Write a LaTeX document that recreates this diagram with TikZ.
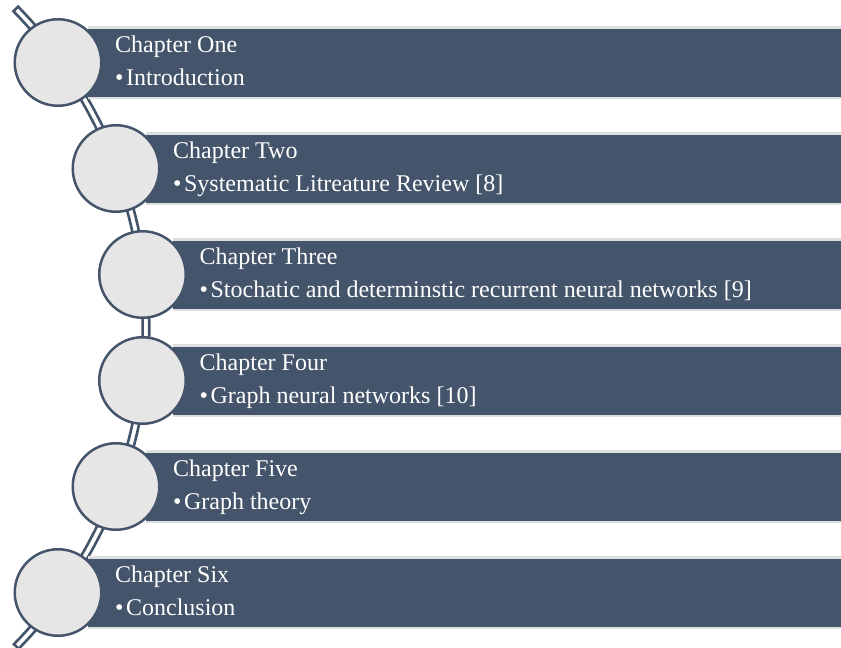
\documentclass[tikz,border=0pt]{standalone}
\usepackage{fontspec}
\setmainfont{Liberation Serif}
\definecolor{bardark}{HTML}{44546A}
\definecolor{circfill}{HTML}{E7E6E6}
\definecolor{barline}{HTML}{DEDEDE}
\tikzset{
  band/.style={draw=bardark, line width=2.6pt, fill=white, line join=miter},
  barbg/.style={fill=barline},
  barfg/.style={fill=bardark},
  bead/.style={circle, draw=bardark, line width=2.5pt, fill=circfill, minimum size=86.5pt, inner sep=0pt},
  txt/.style={text=white, font=\fontsize{24}{28}\selectfont, inner sep=0pt, anchor=base west}
}
\begin{document}
\begin{tikzpicture}[x=1pt,y=-1pt]
\useasboundingbox (0,0) rectangle (841,648);
% curved double band
\draw[band] plot[domain=-44.4:44.3, samples=80] ({-310+459.3*cos(\x)},{328+459.3*sin(\x)})
  -- plot[domain=44.3:-44.4, samples=80] ({-310+452.7*cos(\x)},{328+452.7*sin(\x)}) -- cycle;
\foreach \i/\cx/\cy/\head/\item in {
  1/58/62.5/{Chapter One}/{Introduction},
  2/116/168.5/{Chapter Two}/{Systematic Litreature Review [8]},
  3/142.5/274.5/{Chapter Three}/{Stochatic and determinstic recurrent neural networks [9]},
  4/142.5/380.5/{Chapter Four}/{Graph neural networks [10]},
  5/116/486.5/{Chapter Five}/{Graph theory},
  6/58/592.5/{Chapter Six}/{Conclusion}}{
  \fill[barbg] (\cx+30,\cy-36.5) rectangle (845,\cy+36.5);
  \fill[barfg] (\cx+30,\cy-34) rectangle (845,\cy+34);
  \node[bead] (c\i) at (\cx,\cy) {};
  \node[txt] (h\i) at (\cx+57,\cy-10) {\head};
  \node[txt] (b\i) at (\cx+57,\cy+22.5) {\textbullet\hspace{2.5pt}\item};
}
\end{tikzpicture}
\end{document}
